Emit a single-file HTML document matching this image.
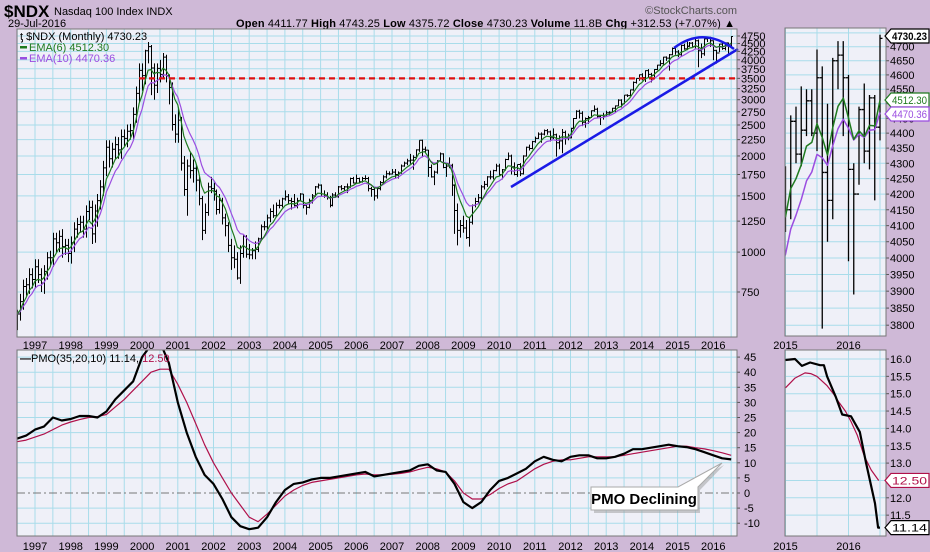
<!DOCTYPE html>
<html><head><meta charset="utf-8"><style>
html,body{margin:0;padding:0;background:#cfb9d7;}
svg{display:block;font-family:"Liberation Sans",sans-serif;}
</style></head><body>
<svg id="c" width="930" height="552" viewBox="0 0 930 552" xmlns="http://www.w3.org/2000/svg">
<rect x="0" y="0" width="930" height="552" fill="#cfb9d7"/>
<g>
<text x="4" y="17" font-size="17" font-weight="bold" fill="#000">$NDX</text>
<text x="54" y="15" font-size="11" fill="#000">Nasdaq 100 Index INDX</text>
<text x="8" y="27" font-size="11" fill="#000">29-Jul-2016</text>
<text x="737" y="14" font-size="11" fill="#555" text-anchor="end">©StockCharts.com</text>
<text x="236" y="27" font-size="11" fill="#000" textLength="499" lengthAdjust="spacing"><tspan font-weight="bold">Open</tspan> 4411.77 <tspan font-weight="bold">High</tspan> 4743.25 <tspan font-weight="bold">Low</tspan> 4375.72 <tspan font-weight="bold">Close</tspan> 4730.23 <tspan font-weight="bold">Volume</tspan> 11.8B <tspan font-weight="bold">Chg</tspan> +312.53 (+7.07%) ▲</text>
</g>
<defs>
<clipPath id="cpMain"><rect x="17" y="29" width="720" height="308"/></clipPath>
<clipPath id="cpPmo"><rect x="17" y="350" width="720" height="186"/></clipPath>
<clipPath id="cpSm"><rect x="785" y="28" width="101" height="308"/></clipPath>
<clipPath id="cpSmP"><rect x="785" y="350" width="101" height="186"/></clipPath>
</defs>
<g id="main"></g>
<g id="pmo"></g>
<g id="sm"></g>
<g id="smp"></g>
</svg>
<script>
const firstOpen = 600;
const closes = [640,700,780,790,850,821,
900,850,800,870,960,960,1100,1070,1120,1040,1050,990,
1070,1180,1220,1240,1180,1340,1380,1140,1345,1450,1600,1836,
2130,1960,2100,2170,2090,2300,2270,2390,2400,2700,3140,3708,
3570,4270,4400,3770,3330,3760,3600,4080,3570,3280,2510,2340,
2590,1900,1570,1860,1800,1830,1680,1470,1170,1330,1600,1580,
1550,1360,1450,1280,1210,1050,960,950,830,990,1120,985,
980,1010,1020,1100,1200,1200,1280,1340,1300,1400,1400,1468,
1490,1450,1440,1400,1450,1520,1400,1380,1450,1500,1600,1621,
1520,1500,1480,1400,1510,1490,1600,1580,1600,1600,1700,1645,
1700,1660,1700,1700,1580,1570,1500,1580,1650,1720,1760,1756,
1780,1750,1770,1860,1900,1930,1940,1980,2090,2240,2100,2085,
1840,1720,1780,1930,2030,1840,1860,1870,1620,1350,1170,1211,
1190,1110,1240,1400,1440,1480,1600,1630,1720,1720,1800,1860,
1750,1810,1950,2000,1850,1750,1880,1760,2000,2130,2110,2217,
2270,2340,2340,2400,2380,2280,2330,2200,2230,2370,2290,2278,
2440,2620,2760,2720,2550,2620,2640,2770,2800,2660,2680,2660,
2730,2740,2820,2870,2990,2910,3100,3090,3220,3400,3500,3592,
3520,3700,3600,3580,3730,3850,3890,4080,4050,4150,4340,4236,
4150,4440,4330,4410,4510,4400,4590,4270,4180,4650,4670,4590,
4280,4200,4480,4340,4520,4420,4730.23];
const highs = [660,740,820,830,890,890,
950,950,890,910,1000,1010,1150,1150,1170,1180,1100,1100,
1120,1240,1280,1300,1300,1400,1450,1450,1410,1520,1680,1930,
2240,2240,2200,2300,2290,2420,2420,2510,2520,2840,3300,3900,
3900,4300,4550,4450,3900,3900,4000,4200,4150,3600,3400,2700,
2800,2650,2000,1950,2050,1950,1880,1720,1500,1420,1650,1720,
1650,1570,1520,1480,1320,1240,1100,1050,1000,1050,1130,1130,
1060,1030,1080,1110,1220,1250,1310,1370,1410,1430,1460,1480,
1560,1520,1480,1520,1480,1530,1520,1410,1470,1520,1610,1640,
1630,1560,1540,1500,1530,1540,1610,1620,1610,1640,1710,1720,
1750,1710,1720,1740,1720,1600,1590,1600,1670,1740,1800,1790,
1820,1820,1790,1880,1920,1960,2030,2010,2100,2240,2250,2140,
2090,1880,1800,1940,2050,2040,1900,1980,1890,1630,1420,1260,
1300,1260,1290,1410,1480,1520,1620,1670,1730,1800,1810,1890,
1890,1820,1960,2050,2020,1910,1880,1900,2010,2140,2170,2230,
2300,2370,2370,2420,2430,2400,2440,2350,2320,2430,2400,2350,
2450,2630,2780,2790,2760,2640,2670,2780,2880,2830,2690,2730,
2770,2760,2830,2880,3010,3010,3100,3120,3230,3420,3500,3600,
3630,3710,3740,3640,3740,3860,3990,4090,4100,4170,4370,4400,
4290,4460,4490,4560,4550,4550,4690,4630,4500,4660,4720,4720,
4600,4300,4490,4570,4530,4530,4743.25];
const lows = [570,610,660,730,740,770,
770,800,750,740,820,900,900,1000,1000,960,980,930,
920,1000,1110,1150,1110,1110,1260,1060,1070,1200,1360,1500,
1730,1840,1840,1950,1960,1960,2130,2130,2250,2250,2540,2950,
3200,3350,3900,3100,3000,3150,3400,3500,3400,2900,2400,2200,
2200,1800,1500,1300,1700,1650,1550,1400,1090,1140,1300,1530,
1450,1310,1320,1220,1120,1000,880,890,820,795,960,960,
950,950,950,1000,1090,1170,1180,1240,1280,1290,1370,1380,
1450,1420,1360,1390,1370,1440,1370,1310,1370,1420,1490,1580,
1500,1480,1460,1380,1390,1480,1480,1560,1550,1530,1590,1640,
1640,1640,1650,1680,1550,1490,1450,1470,1560,1630,1700,1740,
1750,1700,1700,1760,1850,1870,1890,1810,1960,2060,1980,2050,
1720,1710,1620,1760,1920,1830,1720,1830,1500,1140,1050,1110,
1150,1100,1040,1220,1380,1420,1440,1570,1600,1690,1690,1790,
1730,1690,1800,1940,1750,1740,1720,1730,1750,1990,2080,2100,
2200,2260,2200,2320,2330,2220,2260,1990,2100,2040,2170,2240,
2270,2440,2610,2620,2480,2450,2520,2630,2750,2640,2500,2600,
2660,2690,2730,2740,2870,2840,2910,3060,3080,3200,3370,3440,
3450,3410,3520,3400,3530,3710,3820,3860,3970,3700,4130,4150,
4080,4120,4300,4290,4390,4390,4340,3790,4050,4120,4550,4390,
3990,3890,4230,4300,4280,4180,4375.72];
const startYear = 1996.5;
const priceTicks = [4750,4500,4250,4000,3750,3500,3250,3000,2750,2500,2250,2000,1750,1500,1250,1000,750];
const yearLabels = [1997,1998,1999,2000,2001,2002,2003,2004,2005,2006,2007,2008,2009,2010,2011,2012,2013,2014,2015,2016];
const pmoTicks = [45,40,35,30,25,20,15,10,5,0,-5,-10];
const pmoT = [1996.5,1996.75,1997.0,1997.25,1997.5,1997.75,1998.0,1998.25,1998.5,1998.75,1999.0,1999.25,1999.5,1999.75,2000.0,2000.25,2000.5,2000.75,2001.0,2001.25,2001.5,2001.75,2002.0,2002.25,2002.5,2002.75,2003.0,2003.25,2003.5,2003.75,2004.0,2004.25,2004.5,2004.75,2005.0,2005.25,2005.5,2005.75,2006.0,2006.25,2006.5,2006.75,2007.0,2007.25,2007.5,2007.75,2008.0,2008.25,2008.5,2008.75,2009.0,2009.25,2009.5,2009.75,2010.0,2010.25,2010.5,2010.75,2011.0,2011.25,2011.5,2011.75,2012.0,2012.25,2012.5,2012.75,2013.0,2013.25,2013.5,2013.75,2014.0,2014.25,2014.5,2014.75,2015.0,2015.25,2015.5,2015.75,2016.0,2016.25,2016.5];
const pmoV = [18,19,21,22,25,24,24.5,25.5,25.5,25,27,31,34,37,45,49,50,43,30,20,12,6,3,-2,-8,-11,-12,-11.5,-8,-3,1,3,3.5,4.5,5,5,5.5,6,6.5,7,5.5,6,6.5,7,7.5,9,9.5,7.5,7,3,-3,-5,-3,1,4,5,6.5,8,10.5,12,11,10.5,12,12.5,12.5,11.5,11.5,12,13,14.5,14.5,15,15.5,16,15.5,15.2,14.5,13.5,12.5,11.5,11.14];
const sigV = [17,17.5,18.5,19.5,21,22.5,23.5,24.3,25,25.3,26,28.5,31,34,37,40,41,41,36,30,23,16,10,5,0,-4,-8,-9.5,-7,-4,-1,1,2.5,3.5,4,4.5,5,5.5,6,6.3,6,6,6.2,6.5,7,7.8,8.5,8,7,4,0,-2,-2,-0.5,1.5,3,4,6,8,9.5,10.5,11,11,11.5,12,12,12,12,12.5,13,13.5,14,14.5,15,15.5,15.5,15,14.6,14,13.3,12.5];
const zoomStart = 2015.0;
const zoomPriceTicks = [4750,4700,4650,4600,4550,4500,4450,4400,4350,4300,4250,4200,4150,4100,4050,4000,3950,3900,3850,3800];
const zoomPmoTicks = [16.0,15.5,15.0,14.5,14.0,13.5,13.0,12.5,12.0,11.5];
const zPmoT = [2015.0,2015.15,2015.26,2015.39,2015.55,2015.61,2015.66,2015.8,2015.9,2016.04,2016.18,2016.28,2016.42,2016.47,2016.5];
const zPmoV = [15.97,16.0,15.8,15.9,15.82,15.82,15.5,14.9,14.4,14.35,13.9,13.0,11.84,11.14,11.14];
const zSigT = [2015.0,2015.15,2015.31,2015.4,2015.5,2015.66,2015.76,2015.85,2015.95,2016.04,2016.14,2016.25,2016.36,2016.48];
const zSigV = [15.17,15.45,15.6,15.58,15.5,15.23,15.0,14.75,14.5,14.2,13.8,13.2,12.8,12.5];

const NS='http://www.w3.org/2000/svg';
function mk(parent, tag, attrs){const e=document.createElementNS(NS,tag);for(const k in attrs)e.setAttribute(k,attrs[k]);parent.appendChild(e);return e;}
function ema(arr,n){const k=2/(n+1);const out=[];let v=arr[0];for(let i=0;i<arr.length;i++){v=i?arr[i]*k+v*(1-k):arr[i];out.push(v);}return out;}
const ema6=ema(closes,6), ema10=ema(closes,10);
const opens=closes.map((c,i)=>i?closes[i-1]:firstOpen);
const tOf=i=>startYear+i/12;
const X=t=>35+(t-1997)*35.7;
const Y=v=>292-138.7*Math.log(v/750);
const YP=v=>493-3.02*v;
const XS=t=>785.5+(t-zoomStart)*63;
const YS=v=>258+1310*Math.log(4000/v);
const YSP=v=>359+(16-v)*34.7;
const GRID='#a9dcea', BG='#eff0f8';

// ---------- main panel
const main=document.getElementById('main');
let r=mk(main,'rect',{x:17,y:29,width:720,height:308,fill:BG,stroke:'none'});

const gGrid=mk(main,'g',{});

for(let y=1996.5;y<=2016.6;y+=0.5){const x=X(y);if(x<17||x>737)continue;mk(gGrid,'line',{x1:x,x2:x,y1:29,y2:337,stroke:GRID,'stroke-width':1});}
priceTicks.forEach(v=>{const y=Y(v);mk(gGrid,'line',{x1:17,x2:737,y1:y,y2:y,stroke:GRID,'stroke-width':1});
 const t=mk(main,'text',{x:741,y:y+4,'font-size':11,fill:'#000'});t.textContent=v;
 
 mk(main,'line',{x1:737,x2:740,y1:y,y2:y,stroke:'#555'});});
const gBars=mk(main,'g',{'clip-path':'url(#cpMain)',stroke:'#000','stroke-width':1});

closes.forEach((c,i)=>{const x=Math.round(X(tOf(i)))+0.5;
 const b=mk(gBars,'path',{d:`M${x},${Y(highs[i])}V${Y(lows[i])}M${x-1.5},${Y(opens[i])}H${x}M${x},${Y(c)}H${x+1.5}`,fill:'none'});
 });
function line(parent,ts,vs,xf,yf,color,w,name,clip){const p=mk(parent,'path',{d:ts.map((t,i)=>(i?'L':'M')+xf(t).toFixed(1)+','+yf(vs[i]).toFixed(1)).join(''),fill:'none',stroke:color,'stroke-width':w,'clip-path':clip,'stroke-linejoin':'round'});
 return p;}
const tAll=closes.map((c,i)=>tOf(i));
line(main,tAll,ema10,X,Y,'#9b4de0',1.2,'ema10-line','url(#cpMain)');
line(main,tAll,ema6,X,Y,'#1f7a1f',1.2,'ema6-line','url(#cpMain)');
let a=mk(main,'line',{x1:139,x2:737,y1:Y(3500),y2:Y(3500),stroke:'#e01010','stroke-width':2.2,'stroke-dasharray':'6,4'});

a=mk(main,'line',{x1:511,y1:187,x2:738,y2:49,stroke:'#1a1ae6','stroke-width':2.5});

a=mk(main,'path',{d:'M674,48 Q703,26 734,49',fill:'none',stroke:'#1a1ae6','stroke-width':2.5});

r=mk(main,'rect',{x:17,y:29,width:720,height:308,fill:'none',stroke:'#777'});

let g=mk(main,'g',{'font-size':11});

let t=mk(g,'text',{x:20,y:40,fill:'#000'});t.textContent='\u01AB $NDX (Monthly) 4730.23';

mk(g,'rect',{x:20,y:46,width:7,height:2.5,fill:'#1f7a1f'});
t=mk(g,'text',{x:29,y:51,fill:'#1f7a1f'});t.textContent='EMA(6) 4512.30';

mk(g,'rect',{x:20,y:57,width:7,height:2.5,fill:'#9b4de0'});
t=mk(g,'text',{x:29,y:62,fill:'#9b4de0'});t.textContent='EMA(10) 4470.36';

[345,546].forEach(yy=>{yearLabels.forEach(yr=>{const tt=mk(main,'text',{x:X(yr),y:yy+4,'font-size':11,'text-anchor':'middle',fill:'#000'});tt.textContent=yr;
 });});

// ---------- PMO panel
const pmo=document.getElementById('pmo');
r=mk(pmo,'rect',{x:17,y:350,width:720,height:186,fill:BG});

g=mk(pmo,'g',{});
for(let y=1996.5;y<=2016.6;y+=0.5){const x=X(y);if(x<17||x>737)continue;mk(g,'line',{x1:x,x2:x,y1:350,y2:536,stroke:GRID});}
pmoTicks.forEach(v=>{const y=YP(v);if(v!==0)mk(g,'line',{x1:17,x2:737,y1:y,y2:y,stroke:GRID});
 const tt=mk(pmo,'text',{x:744,y:y+4,'font-size':11,fill:'#000'});tt.textContent=v;
 
 mk(pmo,'line',{x1:737,x2:740,y1:y,y2:y,stroke:'#555'});});
a=mk(pmo,'line',{x1:17,x2:737,y1:YP(0),y2:YP(0),stroke:'#777','stroke-dasharray':'8,3,2,3'});

line(pmo,pmoT,sigV,X,YP,'#b0104a',1.2,'pmo-signal-line','url(#cpPmo)');
line(pmo,pmoT,pmoV,X,YP,'#000',2.2,'pmo-line','url(#cpPmo)');
r=mk(pmo,'rect',{x:17,y:350,width:720,height:186,fill:'none',stroke:'#777'});

t=mk(pmo,'text',{x:20,y:362,'font-size':11,fill:'#000'});
t.innerHTML='<tspan font-weight="bold">\u2014</tspan>PMO(35,20,10) 11.14, <tspan fill="#b0104a">12.50</tspan>';

g=mk(pmo,'g',{});
mk(g,'path',{d:'M594,490 H680 L724,465 L700,490 V513 H594 Z',fill:'#999',opacity:'0.5'});
mk(g,'path',{d:'M591,487 H678 L722,463 L698,487 V510 H591 Z',fill:'#fff',stroke:'#aaa'});
t=mk(g,'text',{x:644,y:504,'font-size':15,'font-weight':'bold','text-anchor':'middle',fill:'#000'});t.textContent='PMO Declining';


// ---------- zoom price panel
const sm=document.getElementById('sm');
r=mk(sm,'rect',{x:785,y:28,width:101,height:308,fill:BG});

g=mk(sm,'g',{});
[2015.0,2015.5,2016.0,2016.5].forEach(y=>{const x=XS(y);mk(g,'line',{x1:x,x2:x,y1:28,y2:336,stroke:GRID});});
zoomPriceTicks.forEach(v=>{const y=YS(v);mk(g,'line',{x1:785,x2:886,y1:y,y2:y,stroke:GRID});
 mk(sm,'line',{x1:886,x2:889,y1:y,y2:y,stroke:'#555'});
 const tt=mk(sm,'text',{x:890,y:y+4,'font-size':11,fill:'#000'});tt.textContent=v;
 });
const zi0=closes.findIndex((c,i)=>tOf(i)>=zoomStart);
const gz=mk(sm,'g',{'clip-path':'url(#cpSm)',stroke:'#000','stroke-width':1.3});

for(let i=zi0;i<closes.length;i++){const x=XS(tOf(i));
 const b=mk(gz,'path',{d:`M${x},${YS(highs[i])}V${YS(lows[i])}M${x-2.5},${YS(opens[i])}H${x}M${x},${YS(closes[i])}H${x+2.5}`,fill:'none'});
 }
const tz=tAll.slice(zi0-1);
line(sm,tz,ema10.slice(zi0-1),XS,YS,'#9b4de0',1.5,'zoom-ema10-line','url(#cpSm)');
line(sm,tz,ema6.slice(zi0-1),XS,YS,'#1f7a1f',1.5,'zoom-ema6-line','url(#cpSm)');
r=mk(sm,'rect',{x:785,y:28,width:101,height:308,fill:'none',stroke:'#777'});

function tag(parent,y,txt,color,bold,name){const gg=mk(parent,'g',{});
 
 mk(gg,'path',{d:`M885,${y} L891,${y-7} H929 V${y+7} H891 Z`,fill:'#fff',stroke:color,'stroke-width':1.2});
 const tt=mk(gg,'text',{x:892,y:y+4,'font-size':11,fill:color,'font-weight':bold?'bold':'normal',textLength:35,lengthAdjust:'spacingAndGlyphs'});tt.textContent=txt;}
tag(sm,36,'4730.23','#000',true,'last-price-tag');
tag(sm,100,'4512.30','#1f7a1f',false,'ema6-value-tag');
tag(sm,114,'4470.36','#9b4de0',false,'ema10-value-tag');
[[2015,'2015'],[2016,'2016']].forEach(([yy,lab])=>{[345,546].forEach(yl=>{const tt=mk(sm,'text',{x:XS(yy),y:yl+4,'font-size':11,'text-anchor':'middle',fill:'#000'});tt.textContent=lab;
 });});

// ---------- zoom PMO panel
const smp=document.getElementById('smp');
r=mk(smp,'rect',{x:785,y:350,width:101,height:186,fill:BG});

g=mk(smp,'g',{});
[2015.0,2015.5,2016.0,2016.5].forEach(y=>{const x=XS(y);mk(g,'line',{x1:x,x2:x,y1:350,y2:536,stroke:GRID});});
zoomPmoTicks.forEach(v=>{const y=YSP(v);mk(g,'line',{x1:785,x2:886,y1:y,y2:y,stroke:GRID});
 mk(smp,'line',{x1:886,x2:889,y1:y,y2:y,stroke:'#555'});
 const tt=mk(smp,'text',{x:890,y:y+4,'font-size':11,fill:'#000'});tt.textContent=v.toFixed(1);
 });
line(smp,zSigT,zSigV,XS,YSP,'#b0104a',1.2,'zoom-pmo-signal-line','url(#cpSmP)');
line(smp,zPmoT,zPmoV,XS,YSP,'#000',2.2,'zoom-pmo-line','url(#cpSmP)');
r=mk(smp,'rect',{x:785,y:350,width:101,height:186,fill:'none',stroke:'#777'});

tag(smp,YSP(12.5),'12.50','#b0104a',false,'signal-value-tag');
tag(smp,YSP(11.14),'11.14','#000',false,'pmo-value-tag');
</script>
</body></html>
